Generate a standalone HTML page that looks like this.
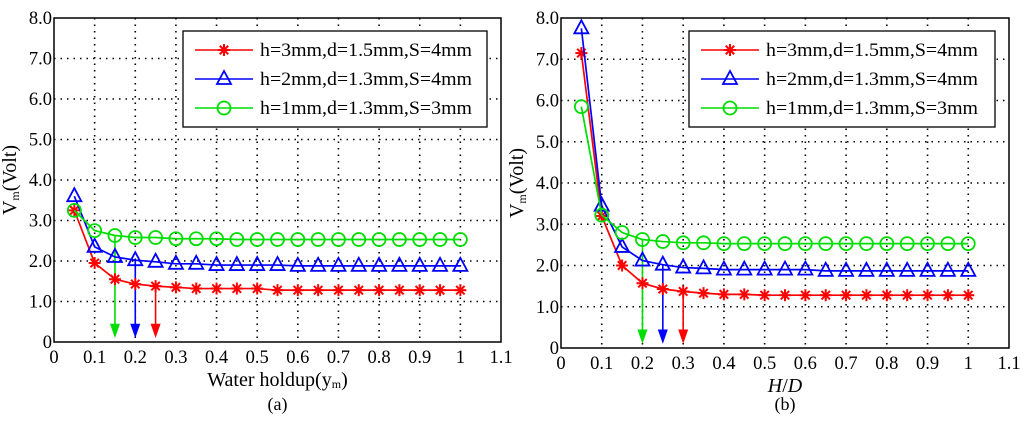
<!DOCTYPE html>
<html><head><meta charset="utf-8"><style>
body{margin:0;background:#fff;width:1024px;height:418px;overflow:hidden}
svg{font-family:"Liberation Serif",serif}
</style></head><body>
<svg id="c" width="1024" height="418" xmlns="http://www.w3.org/2000/svg"></svg>
<script>
const xs=[0.05,0.1,0.15,0.2,0.25,0.3,0.35,0.4,0.45,0.5,0.55,0.6,0.65,0.7,0.75,0.8,0.85,0.9,0.95,1.0];
const aRed=[3.25,1.95,1.55,1.43,1.38,1.35,1.32,1.32,1.32,1.32,1.28,1.28,1.28,1.28,1.28,1.28,1.28,1.28,1.28,1.28];
const aBlue=[3.6,2.35,2.1,2.02,1.98,1.93,1.93,1.9,1.9,1.9,1.9,1.88,1.88,1.88,1.88,1.88,1.88,1.88,1.88,1.88];
const aGreen=[3.25,2.75,2.63,2.58,2.58,2.55,2.55,2.55,2.53,2.53,2.53,2.53,2.53,2.53,2.53,2.53,2.53,2.53,2.53,2.53];
const bRed=[7.15,3.2,2.0,1.57,1.43,1.37,1.33,1.3,1.3,1.28,1.28,1.28,1.28,1.28,1.28,1.28,1.28,1.28,1.28,1.28];
const bBlue=[7.75,3.45,2.45,2.12,2.02,1.95,1.93,1.9,1.9,1.9,1.9,1.9,1.87,1.87,1.87,1.87,1.87,1.87,1.87,1.87];
const bGreen=[5.85,3.22,2.8,2.63,2.58,2.55,2.55,2.53,2.53,2.53,2.53,2.53,2.53,2.53,2.53,2.53,2.53,2.53,2.53,2.53];
const aArrows=[0.15,0.2,0.25];
const bArrows=[0.2,0.25,0.3];
const xTicks=[0,0.1,0.2,0.3,0.4,0.5,0.6,0.7,0.8,0.9,1,1.1];
const xTickLabels=["0","0.1","0.2","0.3","0.4","0.5","0.6","0.7","0.8","0.9","1","1.1"];
const yTicks=[0,1,2,3,4,5,6,7,8];
const yTickLabels=["0","1.0","2.0","3.0","4.0","5.0","6.0","7.0","8.0"];
const legendLabels=["h=3mm,d=1.5mm,S=4mm","h=2mm,d=1.3mm,S=4mm","h=1mm,d=1.3mm,S=3mm"];
const colors=["#ff0000","#0000ff","#00dd00"];
const NS="http://www.w3.org/2000/svg";
const svg=document.getElementById('c');
function mk(t,a,p){const e=document.createElementNS(NS,t);for(const k in a)e.setAttribute(k,a[k]);(p||svg).appendChild(e);return e;}
function marker(g,k,x,y,c){
  if(k===0){for(const a of [0,45,90,135]){const r=a*Math.PI/180;mk('line',{x1:x-6*Math.cos(r),y1:y-6*Math.sin(r),x2:x+6*Math.cos(r),y2:y+6*Math.sin(r),stroke:c,'stroke-width':2},g);}}
  else if(k===1){mk('polygon',{points:`${x},${y-8} ${x-7},${y+5} ${x+7},${y+5}`,fill:'none',stroke:c,'stroke-width':1.8},g);}
  else mk('circle',{cx:x,cy:y,r:6.5,fill:'none',stroke:c,'stroke-width':1.8},g);
}
function panel(o){
  const g=mk('g',{});
  
  
  const X=v=>o.x0+(v/1.1)*(o.x1-o.x0), Y=v=>o.y0-(v/8)*(o.y0-o.y1);
  xTicks.forEach((t,i)=>{
    if(i>0&&i<xTicks.length-1)mk('line',{x1:X(t),x2:X(t),y1:o.y1,y2:o.y0,stroke:'#000','stroke-dasharray':'1.5,5','stroke-width':1.6},g);
    const tl=mk('text',{x:X(t),y:o.y0+21,'text-anchor':'middle','font-size':18.5},g);tl.textContent=xTickLabels[i];
    
    
  });
  yTicks.forEach((t,i)=>{
    if(i>0&&i<yTicks.length-1)mk('line',{x1:o.x0,x2:o.x1,y1:Y(t),y2:Y(t),stroke:'#000','stroke-dasharray':'1.5,5','stroke-width':1.6},g);
    const tl=mk('text',{x:o.x0-2,y:Y(t)+6,'text-anchor':'end','font-size':18.5},g);tl.textContent=yTickLabels[i];
    
    
  });
  mk('rect',{x:o.x0,y:o.y1,width:o.x1-o.x0,height:o.y0-o.y1,fill:'none',stroke:'#000','stroke-width':1.5},g);
  o.arrows.forEach((a,i)=>{
    const ci=2-i, s=o.series[ci], v=s[xs.indexOf(a)];
    const c=colors[ci];
    mk('line',{x1:X(a),x2:X(a),y1:Y(v),y2:Y(0.35),stroke:c,'stroke-width':1.6},g);
    const ar=mk('polygon',{points:`${X(a)-5},${Y(0.45)} ${X(a)+5},${Y(0.45)} ${X(a)},${Y(0.1)}`,fill:c},g);
    
    
  });
  o.series.forEach((s,si)=>{
    const sg=mk('g',{},g);
    
    
    mk('polyline',{points:s.map((v,i)=>X(xs[i])+','+Y(v)).join(' '),fill:'none',stroke:colors[si],'stroke-width':1.7},sg);
    s.forEach((v,i)=>marker(sg,si,X(xs[i]),Y(v),colors[si]));
  });
  const lg=mk('g',{},g);
  
  
  mk('rect',{x:o.lx,y:31,width:o.lw,height:96,fill:'#fff',stroke:'#000','stroke-width':1.3},lg);
  legendLabels.forEach((l,i)=>{
    const y=50+i*29;
    mk('line',{x1:o.lx+12,x2:o.lx+70,y1:y,y2:y,stroke:colors[i],'stroke-width':1.6},lg);
    marker(lg,i,o.lx+41,y,colors[i]);
    const t=mk('text',{x:o.lx+77,y:y+6,'font-size':18.5,textLength:212,lengthAdjust:'spacingAndGlyphs'},lg);t.textContent=l;
    
    
  });
  const yl=mk('text',{transform:`translate(${o.x0-38},${(o.y0+o.y1)/2}) rotate(-90)`,'text-anchor':'middle','font-size':20},g);
  yl.innerHTML='V<tspan font-size="12" dy="3">m</tspan><tspan dy="-3">(Volt)</tspan>';
  
  
  const xl=mk('text',{x:(o.x0+o.x1)/2,y:o.y0+44,'text-anchor':'middle','font-size':20},g);
  xl.innerHTML=o.xlabel;
  
  
  const cap=mk('text',{x:(o.x0+o.x1)/2,y:410,'text-anchor':'middle','font-size':18},g);
  cap.textContent=o.cap;
  
  
}
panel({name:'panel-a',x0:54,x1:501,y0:342,y1:18,series:[aRed,aBlue,aGreen],arrows:aArrows,lx:183,lw:304,xlabel:'Water holdup(y<tspan font-size="12" dy="2">m</tspan><tspan dy="-2">)</tspan>',cap:'(a)'});
panel({name:'panel-b',x0:561,x1:1009,y0:348,y1:18,series:[bRed,bBlue,bGreen],arrows:bArrows,lx:689,lw:306,xlabel:'<tspan font-style="italic">H</tspan>/<tspan font-style="italic">D</tspan>',cap:'(b)'});
</script>
</body></html>
